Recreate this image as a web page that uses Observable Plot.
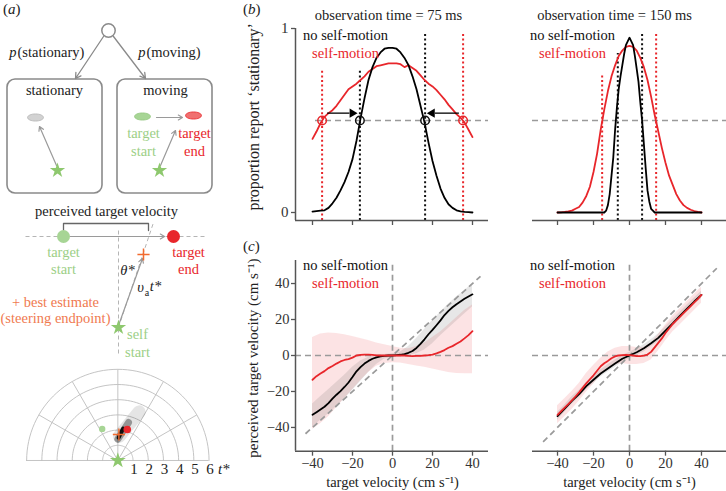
<!DOCTYPE html>
<html><head><meta charset="utf-8">
<script src="https://cdn.jsdelivr.net/npm/d3@7"></script>
<script src="https://cdn.jsdelivr.net/npm/@observablehq/plot@0.6"></script>
<style>
body{margin:0;background:#fff;}
#fig{position:relative;width:726px;height:491px;overflow:hidden;}
#fig > div.p{position:absolute;}
.lab{position:absolute;font-size:15px;color:#222;line-height:1;}
</style></head><body><div id="fig">
<div class="lab" style="left:3px;top:2px">(<i>a</i>)</div>
<div class="lab" style="left:243px;top:2px">(<i>b</i>)</div>
<div class="lab" style="left:243px;top:239px">(<i>c</i>)</div>
</div>
<script>
// ---------------- DATA ----------------
const velB = [-40,-38,-36,-34,-32,-30,-28,-26,-24,-22,-20,-18,-16,-14,-12,-10,-8,-6,-4,-2,0,2,4,6,8,10,12,14,16,18,20,22,24,26,28,30,32,34,36,38,40];
// (b) 75 ms: proportion 'stationary'
const noSelfB75 = [0.005,0.008,0.01,0.012,0.025,0.05,0.08,0.12,0.165,0.22,0.29,0.39,0.51,0.62,0.72,0.79,0.84,0.87,0.89,0.895,0.895,0.89,0.87,0.84,0.8,0.74,0.67,0.58,0.49,0.38,0.28,0.2,0.13,0.08,0.045,0.025,0.012,0.006,0.003,0.002,0];
const selfB75 = [0.40,0.44,0.485,0.52,0.54,0.556,0.58,0.61,0.64,0.67,0.685,0.7,0.72,0.74,0.765,0.78,0.795,0.8,0.805,0.81,0.81,0.81,0.806,0.79,0.8,0.785,0.77,0.745,0.72,0.7,0.685,0.665,0.64,0.615,0.585,0.56,0.535,0.515,0.49,0.45,0.41];
// (b) 150 ms
const velB150 = [-40,-36,-32,-28,-24,-20,-16,-14,-13,-12,-11,-10,-9,-8,-7,-6,-5,-4,-3,-2,-1,0,1,2,3,4,5,6,7,8,9,10,11,12,13,14,16,20,24,28,32,36,40];
const noSelfB150 = [0,0,0,0,0,0,0,0,0.01,0.04,0.1,0.2,0.3,0.45,0.57,0.67,0.74,0.8,0.86,0.91,0.93,0.95,0.93,0.91,0.85,0.78,0.71,0.6,0.5,0.37,0.24,0.12,0.06,0.02,0.01,0,0,0,0,0,0,0,0];
const selfB150 = [0,0.001,0.003,0.006,0.01,0.02,0.03,0.055,0.09,0.14,0.22,0.32,0.45,0.56,0.66,0.74,0.8,0.85,0.88,0.9,0.905,0.9,0.88,0.84,0.79,0.72,0.63,0.53,0.44,0.35,0.27,0.2,0.15,0.1,0.065,0.04,0.025,0.015,0.008,0.003,0];
// thresholds (dotted lines) and crossing markers
const thr75 = [{x:-16.3,top:0.77,c:"#111"},{x:16.3,top:0.98,c:"#111"},{x:-35.2,top:0.77,c:"#e8262b"},{x:35.3,top:0.98,c:"#e8262b"}];
const thr150 = [{x:-6.5,top:0.864,c:"#111"},{x:7,top:0.975,c:"#111"},{x:-15.2,top:0.755,c:"#e8262b"},{x:14.8,top:0.975,c:"#e8262b"}];
const cross75 = [{x:-35.2,c:"#e8262b"},{x:-16.3,c:"#111"},{x:16.3,c:"#111"},{x:35.3,c:"#e8262b"}];
const shift75 = [{from:-32.7,to:-18.5,p:0.54},{from:33.2,to:18.2,p:0.54}];
// (c) perceived velocity
const velBand = [-40,-36,-32,-28,-24,-20,-16,-12,-8,-4,0,4,8,12,16,20,24,28,32,36,40];
const noSelfC75 = [-33,-31.5,-30,-28.5,-26.5,-24,-21.8,-19.8,-17.5,-15,-12,-8.8,-6.5,-4.5,-3,-1.8,-1,-0.5,-0.2,0,0,0.2,0.4,0.8,1.5,2.5,4.2,6.5,9,11.8,14.2,16.8,19.5,22.5,24.8,26.8,28.5,30,31.5,32.8,34];
const selfC75 = [-13.5,-11.5,-10,-8.7,-7,-5.8,-4.5,-3.3,-2.5,-2,-1.2,0,0.3,0.5,0.5,0.3,0.1,0,0,0,0,0,0,0,-0.2,-0.3,-0.2,-0.2,0,0.2,0.5,1.2,2,3,4.3,5.2,6.5,7.8,9.5,11.3,13.5];
const grayLoC75 = [-40,-36,-32.5,-28.5,-24,-19.5,-14.5,-9.5,-5,-2,-1,-0.5,0,1,3,6.5,11,15,19,23,27];
const grayHiC75 = [-27,-23,-19,-15,-11,-6.5,-3,-1,0,0.5,1,2,5,9.5,14.5,19.5,24,28.5,32.5,36,40];
const pinkLoC75 = [-41,-38,-34,-29,-24,-19,-14,-9.5,-6,-4.5,-4,-4.2,-5,-5.8,-6.5,-7.5,-8.5,-9.5,-10,-10.2,-10.2];
const pinkHiC75 = [10,12,12.5,12.2,11.5,10.5,9.5,8.3,7,6,5,4,3.8,5,7,10,13,17,21,25,28];
const noSelfC150 = [-33.7,-29.5,-25.2,-21.5,-17,-13.5,-10,-7.2,-4.5,-1.8,0,1.8,4,6.8,9.8,13.8,17.8,22,26,30,33.7];
const selfC150 = [-33,-31,-29,-27,-25,-22.8,-20.5,-18,-15.5,-13.2,-11,-8.5,-6,-4.3,-3,-1.5,-0.5,0,0.2,0.3,0.2,0,-0.3,-0.3,-0.1,0.5,2,4.5,7,9.5,12.5,15,17.5,19.5,21.5,23.5,25.5,27.5,29.5,31.5,33.7];
const grayLoC150 = [-36,-31.5,-27.3,-23.5,-19,-15.5,-12,-9.2,-6.5,-3.8,-1.8,0,2,4.8,7.8,11.8,15.8,20,24,28,31.7];
const grayHiC150 = [-31.5,-27.5,-23,-19.5,-15,-11.5,-8,-5.2,-2.5,0,1.8,3.8,6,8.8,12,16,20,24,28,32,35.7];
const pinkLoC150 = [-38,-34,-30,-25.5,-20.5,-16,-11,-7.5,-5,-4.5,-5,-5,-4.5,-2.5,2.5,8,13,17,21,25,29];
const pinkHiC150 = [-28,-24,-20,-15.5,-10,-5.5,-1.5,2,4,5,5,4.5,4.5,7,11.5,17,22,26,30,34,38];
const velTicks = [-40,-20,0,20,40];
const perceivedTicks = [-40,-20,0,20,40];
const propTicks = [0,1];
const legendText = ["no self-motion","self-motion"];
const titles = ["observation time = 75 ms","observation time = 150 ms"];

// ---- schematic (panel a), diagram units ----
const GREEN="#8ec86e", GREENTXT="#9ccf86", GREENDOT="#a7d595", RED="#e8262b", ORANGE="#f07a50", GRAY="#9a9a9a";
const treeNode = [{x:108,y:30}];
const treeBranches = [{x1:103,y1:36,x2:75,y2:78},{x1:113,y1:36,x2:145,y2:78}];
const hypothesisBoxes = [{x1:7,y1:79,x2:102,y2:193},{x1:117,y1:79,x2:212,y2:193}];
const boxTargets = [{x:35,y:117,fill:"#d2d2d2",stroke:"#b5b5b5"},{x:142,y:116,fill:GREENDOT,stroke:"#93c77f"},{x:193,y:115,fill:"#f07070",stroke:RED}];
const selfStars = [{x:57,y:170},{x:159,y:170},{x:118,y:327}];
const grayArrows = [{x1:56,y1:165,x2:39,y2:126},{x1:160,y1:165,x2:175,y2:130},{x1:156,y1:117,x2:182,y2:117},{x1:70,y1:236,x2:164,y2:236},{x1:118,y1:325,x2:142,y2:258}];
const bracket = [{x:63,y:230},{x:63,y:223},{x:148,y:223},{x:148,y:230}];
const guideDashes = [{x1:25,y1:236,x2:205,y2:236},{x1:118,y1:230,x2:118,y2:356},{x1:118,y1:327,x2:153,y2:222}];
const velocityDots = [{x:63,y:236,fill:GREENDOT},{x:173,y:236,fill:RED}];
const bestEstimate = [{x:143,y:254}];
const schematicText = [
  {x:16,y:52,text:"p",italic:true,anchor:"end"},{x:17,y:52,text:"(stationary)",anchor:"start"},
  {x:145,y:52,text:"p",italic:true,anchor:"end"},{x:146,y:52,text:"(moving)",anchor:"start"},
  {x:54,y:90,text:"stationary"},{x:165,y:90,text:"moving"},
  {x:143,y:133,text:"target",color:GREENTXT},{x:143,y:151,text:"start",color:GREENTXT},
  {x:194,y:133,text:"target",color:RED},{x:194,y:151,text:"end",color:RED},
  {x:106,y:211,text:"perceived target velocity"},
  {x:63,y:252,text:"target",color:GREENTXT},{x:63,y:269,text:"start",color:GREENTXT},
  {x:188,y:252,text:"target",color:RED},{x:188,y:269,text:"end",color:RED},
  {x:127,y:270,text:"θ*",italic:true},
  {x:140,y:287,text:"υ",italic:true},{x:146.5,y:292,text:"a",size:10},{x:155,y:286,text:"t*",italic:true},
  {x:55,y:302,text:"+ best estimate",color:ORANGE},{x:55,y:318,text:"(steering endpoint)",color:ORANGE},
  {x:137,y:334,text:"self",color:GREENTXT},{x:137,y:352,text:"start",color:GREENTXT}
];
// polar inset (t* units)
const tStarRadii = [1,2,3,4,5,6];
const spokeAngles = [30,60,90,120,150];
const polarGreen = [{x:-1.03,y:2.08}];
const polarRed = [{x:0.62,y:2.04}];
const polarEstimate = [{x:0.07,y:1.71}];
const blobSoft = [{x1:0.1,y1:1.6,x2:1.4,y2:3.2}];
const blobMid = [{x1:0.0,y1:1.4,x2:0.7,y2:2.5}];
const blobCore = [{x1:0.05,y1:1.5,x2:0.35,y2:2.1}];

// ---------------- FONT PICK ----------------
function hasFont(name){
  const c=document.createElement("canvas").getContext("2d"), s="observation time = 75 ms Wwli";
  let diff=false;
  for (const gen of ["monospace","sans-serif"]) {
    c.font=`20px ${gen}`; const a=c.measureText(s).width;
    c.font=`20px "${name}", ${gen}`; const b=c.measureText(s).width;
    if (Math.abs(a-b)>0.01) diff=true;
  }
  return diff;
}
const serifName = ["Liberation Serif","Tinos","Times New Roman","Times","Nimbus Roman","Nimbus Roman No9 L","FreeSerif","DejaVu Serif","Noto Serif","STIX Two Text","Georgia"].find(hasFont);
const FONT = serifName ? `"${serifName}", serif` : "serif";
document.getElementById("fig").style.fontFamily = FONT;

// ---------------- HELPERS ----------------
const fig = document.getElementById("fig");
function place(node, left, top){ const d=document.createElement("div"); d.className="p"; d.style.left=left+"px"; d.style.top=top+"px"; d.appendChild(node); fig.appendChild(d); }
const pts = (xs, ys) => xs.map((x,i)=>({x, y: ys[i]}));
const band = (xs, lo, hi) => xs.map((x,i)=>({x, lo: lo[i], hi: hi[i]}));
const baseStyle = {fontFamily: FONT, fontSize: "15px", color: "#222", background: "transparent", overflow: "visible"};
const ellipseSymbol = {draw(ctx, size){ const r=Math.sqrt(size/Math.PI), rx=r*1.9, ry=r*0.85, k=0.5523;
  ctx.moveTo(rx,0); ctx.bezierCurveTo(rx,ry*k,rx*k,ry,0,ry); ctx.bezierCurveTo(-rx*k,ry,-rx,ry*k,-rx,0);
  ctx.bezierCurveTo(-rx,-ry*k,-rx*k,-ry,0,-ry); ctx.bezierCurveTo(rx*k,-ry,rx,-ry*k,rx,0); ctx.closePath(); }};
const DASH = {stroke:"#9a9a9a", strokeWidth:1.7, strokeDasharray:"6,4"};
const AX = "#555";

// ---------------- PANEL (a) ----------------
const schematic = Plot.plot({
  width:240, height:360, margin:0,
  x:{domain:[0,240], axis:null}, y:{domain:[0,360], reverse:true, axis:null},
  color:{type:"identity"}, style: baseStyle,
  marks:[
    Plot.rect(hypothesisBoxes,{x1:"x1",y1:"y1",x2:"x2",y2:"y2",rx:8,fill:"none",stroke:"#8a8a8a",strokeWidth:1.6}),
    Plot.arrow(treeBranches,{x1:"x1",y1:"y1",x2:"x2",y2:"y2",stroke:"#8a8a8a",strokeWidth:1.3,headLength:7}),
    Plot.dot(treeNode,{x:"x",y:"y",r:6.7,stroke:"#8a8a8a",strokeWidth:1.5,fill:"white"}),
    Plot.link(guideDashes,{x1:"x1",y1:"y1",x2:"x2",y2:"y2",stroke:"#b5b5b5",strokeWidth:1,strokeDasharray:"4,3"}),
    Plot.line(bracket,{x:"x",y:"y",stroke:"#666",strokeWidth:1.3}),
    Plot.arrow(grayArrows,{x1:"x1",y1:"y1",x2:"x2",y2:"y2",stroke:GRAY,strokeWidth:1.2,headLength:6}),
    Plot.dot(boxTargets,{x:"x",y:"y",r:4.2,symbol:ellipseSymbol,fill:"fill",stroke:"stroke",strokeWidth:0.8}),
    Plot.dot(velocityDots,{x:"x",y:"y",r:6.5,fill:"fill"}),
    Plot.dot(bestEstimate,{x:"x",y:"y",r:4,symbol:"plus",stroke:"#f26b2f",strokeWidth:1.5}),
    Plot.dot(selfStars,{x:"x",y:"y",r:4.8,symbol:"star",fill:GREEN}),
    ...schematicText.map(t=>Plot.text([t],{x:"x",y:"y",text:"text",fill:t.color||"#222",fontSize:t.size||14.5,fontStyle:t.italic?"italic":"normal",textAnchor:t.anchor||"middle"}))
  ]
});
place(schematic,0,0);

const arcPts = tStarRadii.flatMap(r => d3.range(0,181,3).map(a=>({r, x:r*Math.cos(a*Math.PI/180), y:r*Math.sin(a*Math.PI/180)})));
const polar = Plot.plot({
  width:240, height:131, margin:0,
  x:{domain:[-7.72,8.07], axis:null}, y:{domain:[-2.04,6.58], axis:null},
  style: baseStyle,
  marks:[
    Plot.line(arcPts,{x:"x",y:"y",z:"r",stroke:"#bdbdbd",strokeWidth:0.9}),
    Plot.link(spokeAngles,{x1:0,y1:0,x2:a=>6*Math.cos(a*Math.PI/180),y2:a=>6*Math.sin(a*Math.PI/180),stroke:"#bdbdbd",strokeWidth:0.9}),
    Plot.ruleY([0],{x1:-6,x2:6,stroke:"#bdbdbd",strokeWidth:0.9}),
    Plot.link(blobSoft,{x1:"x1",y1:"y1",x2:"x2",y2:"y2",stroke:"#000",strokeOpacity:0.1,strokeWidth:13,strokeLinecap:"round",ariaLabel:"blob-soft"}),
    Plot.link(blobMid,{x1:"x1",y1:"y1",x2:"x2",y2:"y2",stroke:"#000",strokeOpacity:0.35,strokeWidth:7,strokeLinecap:"round",ariaLabel:"blob-mid"}),
    Plot.link(blobCore,{x1:"x1",y1:"y1",x2:"x2",y2:"y2",stroke:"#000",strokeOpacity:0.9,strokeWidth:4,strokeLinecap:"round",ariaLabel:"blob-core"}),
    Plot.dot(polarGreen,{x:"x",y:"y",r:3.2,fill:GREENDOT}),
    Plot.dot(polarRed,{x:"x",y:"y",r:3.8,fill:RED}),
    Plot.dot(polarEstimate,{x:"x",y:"y",r:4,symbol:"plus",stroke:"#f26b2f",strokeWidth:1.4}),
    Plot.dot([{x:0,y:0}],{x:"x",y:"y",r:5,symbol:"star",fill:GREEN}),
    Plot.text(tStarRadii,{x:d=>d+0.07,y:-0.55,text:d=>String(d),fontSize:15,fill:"#222"}),
    Plot.text(["t*"],{x:6.97,y:-0.55,fontSize:15,fontStyle:"italic",fill:"#222"})
  ]
});
place(polar,0,360);
{
  const ns="http://www.w3.org/2000/svg";
  const defs=document.createElementNS(ns,"defs");
  [["blob-soft",5],["blob-mid",2.6],["blob-core",1.2]].forEach(([l,s],i)=>{
    const f=document.createElementNS(ns,"filter"); f.setAttribute("id","blurf"+i);
    f.setAttribute("x","-100%"); f.setAttribute("y","-100%"); f.setAttribute("width","300%"); f.setAttribute("height","300%");
    const b=document.createElementNS(ns,"feGaussianBlur"); b.setAttribute("stdDeviation",s); f.appendChild(b); defs.appendChild(f);
    const g=polar.querySelector(`g[aria-label="${l}"]`); if (g) g.setAttribute("filter",`url(#blurf${i})`);
  });
  polar.insertBefore(defs, polar.firstChild);
}

// ---------------- PANEL (b) ----------------
function panelB({width, marginLeft, xdom, dashFrom, thr, noSelf, noSelfX, self, title, titleX, legX, cross, shift, yAxis}){
  const marks = [
    Plot.ruleY([0.5],{x1:dashFrom,x2:xdom[1],...DASH}),
    Plot.ruleX(thr,{x:"x",y1:-0.0435,y2:"top",stroke:"c",strokeWidth:2,strokeDasharray:"2,2.6"}),
    Plot.line(pts(velB,self),{x:"x",y:"y",stroke:RED,strokeWidth:1.8}),
    Plot.line(pts(noSelfX,noSelf),{x:"x",y:"y",stroke:"#000",strokeWidth:1.8}),
    Plot.ruleY([-0.0435],{x1:xdom[0],x2:xdom[1],stroke:AX,strokeWidth:1.5}),
    Plot.axisX({ticks:velTicks,tickSize:5,tickFormat:()=>"",label:null,stroke:AX,strokeWidth:1.3}),
    Plot.text([legendText[0]],{x:legX,y:0.962,fontSize:14.5,fill:"#111"}),
    Plot.text([legendText[1]],{x:legX,y:0.864,fontSize:14.5,fill:RED}),
    Plot.text([title],{x:titleX,y:1.072,fontSize:14.5,fill:"#222"})
  ];
  if (cross) marks.push(Plot.dot(cross,{x:"x",y:0.5,r:4.3,stroke:"c",strokeWidth:1.5,fill:"none"}));
  if (shift) {
    marks.push(Plot.link(shift,{x1:"from",x2:d=>d.to-Math.sign(d.to-d.from)*3,y1:"p",y2:"p",stroke:"#000",strokeWidth:1.3}));
    marks.push(Plot.dot(shift,{x:d=>d.to-Math.sign(d.to-d.from)*1.6,y:"p",symbol:"triangle",r:3.4,fill:"#000",rotate:d=>d.to>d.from?90:-90}));
  }
  if (yAxis) {
    marks.push(Plot.ruleX([xdom[0]],{y1:-0.0435,y2:1,stroke:AX,strokeWidth:1.5}));
    marks.push(Plot.axisY({ticks:propTicks,tickSize:4,tickPadding:3,tickFormat:d=>String(d),label:null,stroke:AX,strokeWidth:1.3,fill:"#333"}));
    marks.push(Plot.text(["proportion report ‘stationary’"],{x:-69.5,y:0.52,rotate:-90,fontSize:16,fill:"#222"}));
  }
  return Plot.plot({width, height:230, marginLeft, marginRight: width===250?2:0, marginTop:28, marginBottom:10,
    x:{domain:xdom, axis:null}, y:{domain:[-0.0435,1], axis:null}, color:{type:"identity"}, style: baseStyle, marks});
}
place(panelB({width:250, marginLeft:55, xdom:[-48.5,48], dashFrom:-38.5, thr:thr75, noSelf:noSelfB75, noSelfX:velB, self:selfB75,
  title:titles[0], titleX:-2, legX:-23.5, cross:cross75, shift:shift75, yAxis:true}), 240, 0);
place(panelB({width:236, marginLeft:42, xdom:[-53.9,53.9], dashFrom:-53.9, thr:thr150, noSelf:noSelfB150, noSelfX:velB150, self:selfB150,
  title:titles[1], titleX:-8.3, legX:-31.7, cross:null, shift:null, yAxis:false}), 490, 0);

// ---------------- PANEL (c) ----------------
function panelC({width, marginLeft, xdom, diag, noSelf, noSelfX, self, pinkLo, pinkHi, grayLo, grayHi, legX, yAxis}){
  const marks = [
    Plot.areaY(band(velBand,pinkLo,pinkHi),{x:"x",y1:"lo",y2:"hi",fill:RED,fillOpacity:0.13}),
    Plot.areaY(band(velBand,grayLo,grayHi),{x:"x",y1:"lo",y2:"hi",fill:"#555",fillOpacity:0.14}),
    Plot.ruleY([0],{x1:xdom[0],x2:xdom[1],...DASH}),
    Plot.ruleX([0],{y1:-53.2,y2:51.8,...DASH}),
    Plot.link([diag],{x1:d=>d[0],y1:d=>d[0],x2:d=>d[1],y2:d=>d[1],...DASH}),
    Plot.line(pts(noSelfX,noSelf),{x:"x",y:"y",stroke:"#000",strokeWidth:1.8}),
    Plot.line(pts(velB,self),{x:"x",y:"y",stroke:RED,strokeWidth:1.8}),
    Plot.ruleY([-53.2],{x1:xdom[0],x2:xdom[1],stroke:AX,strokeWidth:1.5}),
    Plot.axisX({ticks:velTicks,tickSize:5,tickPadding:2,label:null,stroke:AX,strokeWidth:1.3,fill:"#333",fontSize:14.5}),
    Plot.text([legendText[0]],{x:legX,y:50,fontSize:14.5,fill:"#111"}),
    Plot.text([legendText[1]],{x:legX,y:40,fontSize:14.5,fill:RED}),
    Plot.text(["target velocity (cm s⁻¹)"],{x:0,y:-70.3,fontSize:14.5,fill:"#222"})
  ];
  if (yAxis) {
    marks.push(Plot.ruleX([xdom[0]],{y1:-53.2,y2:52.8,stroke:AX,strokeWidth:1.5}));
    marks.push(Plot.axisY({ticks:perceivedTicks,tickSize:4,tickPadding:2,label:null,stroke:AX,strokeWidth:1.3,fill:"#333",fontSize:14.5}));
    marks.push(Plot.text(["perceived target velocity (cm s⁻¹)"],{x:-69.5,y:-1.5,rotate:-90,fontSize:15,fill:"#222"}));
  }
  return Plot.plot({width, height:261, marginLeft, marginRight: width===250?2:0, marginTop:30, marginBottom:40.3,
    x:{domain:xdom, axis:null}, y:{domain:[-53.2,52.8], axis:null}, color:{type:"identity"}, style: baseStyle, marks});
}
place(panelC({width:250, marginLeft:55, xdom:[-48.5,48], diag:[-43.5,44], noSelf:noSelfC75, noSelfX:velB, self:selfC75,
  pinkLo:pinkLoC75, pinkHi:pinkHiC75, grayLo:grayLoC75, grayHi:grayHiC75, legX:-23.5, yAxis:true}), 240, 230);
place(panelC({width:236, marginLeft:42, xdom:[-53.9,53.9], diag:[-48,48.5], noSelf:noSelfC150, noSelfX:velBand, self:selfC150,
  pinkLo:pinkLoC150, pinkHi:pinkHiC150, grayLo:grayLoC150, grayHi:grayHiC150, legX:-31.7, yAxis:false}), 490, 230);
</script></body></html>
